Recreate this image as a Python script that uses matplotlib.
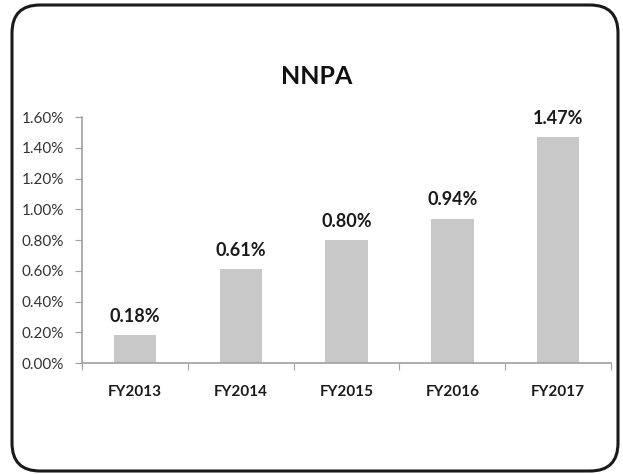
import matplotlib.pyplot as plt
from matplotlib.patches import FancyBboxPatch
from matplotlib.ticker import FuncFormatter

years = ["FY2013", "FY2014", "FY2015", "FY2016", "FY2017"]
nnpa = [0.18, 0.61, 0.80, 0.94, 1.47]

plt.rcParams['font.family'] = ['Lato', 'DejaVu Sans']

fig = plt.figure(figsize=(6.23, 4.74), dpi=100)

# rounded frame around the whole chart
bg = fig.add_axes([0, 0, 1, 1])
bg.set_xlim(0, 623)
bg.set_ylim(0, 474)
bg.axis("off")
frame = FancyBboxPatch((12, 3), 606, 466, boxstyle="round,pad=0,rounding_size=28",
                       facecolor="white", edgecolor="#1a1a1a", linewidth=2.2)
bg.add_patch(frame)

ax = fig.add_axes([0.1316, 0.234, 0.8494, 0.519])
x = range(len(years))
ax.bar(x, nnpa, width=0.4, color="#c8c8c8")

for i, v in enumerate(nnpa):
    ax.annotate(f"{v:.2f}%", (i, v), xytext=(0, 7.5), textcoords="offset points",
                ha="center", va="bottom", fontsize=13, fontweight="bold", color="#1a1a1a")

ax.set_xlim(-0.5, len(years) - 0.5)
ax.set_ylim(0, 1.6)
ax.set_yticks([0, 0.2, 0.4, 0.6, 0.8, 1.0, 1.2, 1.4, 1.6])
ax.yaxis.set_major_formatter(FuncFormatter(lambda v, p: f"{v:.2f}%"))

# ticks sit between the categories, labels under each bar
ax.set_xticks([i - 0.5 for i in range(len(years) + 1)])
ax.set_xticklabels([])
ax.set_xticks(list(x), minor=True)
ax.set_xticklabels(years, minor=True, fontsize=11, fontweight="bold", color="#1a1a1a")
ax.tick_params(axis="x", which="minor", length=0, pad=16)
ax.tick_params(axis="x", which="major", length=5, color="#a0a0a0", direction="out")
ax.tick_params(axis="y", length=5, color="#a0a0a0", labelsize=11, labelcolor="#333333", pad=8)

for s in ["top", "right"]:
    ax.spines[s].set_visible(False)
for s in ["left", "bottom"]:
    ax.spines[s].set_color("#a0a0a0")
    ax.spines[s].set_linewidth(1.2)

fig.text(0.509, 0.838, "NNPA", ha="center", va="center", fontsize=18, fontweight="bold", color="#111111")

plt.savefig("out.png")
